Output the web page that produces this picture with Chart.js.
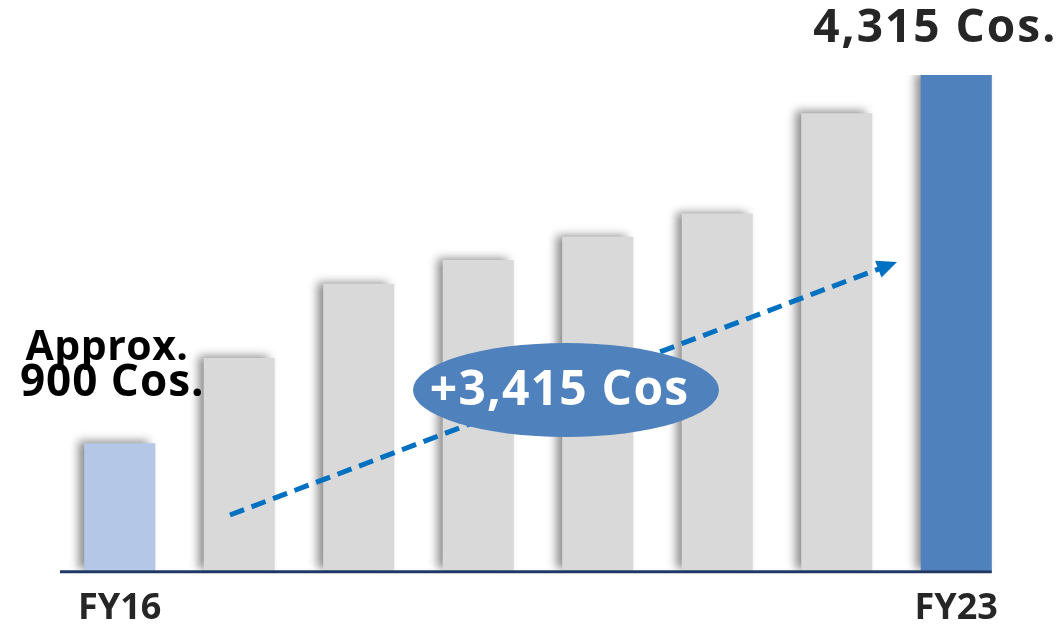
<!DOCTYPE html>
<html>
<head>
<meta charset="utf-8">
<script src="https://cdn.jsdelivr.net/npm/chart.js@4"></script>
<style>
  html, body { margin: 0; padding: 0; background: #fff; }
  #wrap { width: 1061px; height: 627px; }
</style>
</head>
<body>
<div id="wrap"><canvas id="companies-chart"></canvas></div>
<script>
// fiscal years and number of companies (middle years)
var years = ["FY16", "FY17", "FY18", "FY19", "FY20", "FY21", "FY22", "FY23"];
var companies = [900, 1690, 2380, 2600, 2815, 3030, 3960, 4315];
var shownTicks = ["FY16", "FY23"];
var barColors = ["#b4c7e7", "#d9d9d9", "#d9d9d9", "#d9d9d9", "#d9d9d9", "#d9d9d9", "#d9d9d9", "#4f81bd"];

var firstLabel = ["Approx.", "900 Cos."];
var lastLabel = "4,315 Cos.";
var growthLabel = "+3,415 Cos";

var yMin = -282;
var yMax = 4315;
var FONT = "'Open Sans', 'Noto Sans', sans-serif";

// soft shadow on the left side of the bars
var shadowPlugin = {
    id: "barShadow",
    beforeDatasetsDraw: function(chart) {
        var ctx = chart.ctx;
        ctx.save();
        ctx.shadowColor = "rgba(0,0,0,0.45)";
        ctx.shadowBlur = 9;
        ctx.shadowOffsetX = -6;
        ctx.shadowOffsetY = -2;
    },
    afterDatasetsDraw: function(chart) {
        chart.ctx.restore();
    }
};

function spaced(ctx, text, x, y, spacing) {
    ctx.letterSpacing = spacing + "px";
    ctx.fillText(text, x + spacing / 2, y);
    ctx.letterSpacing = "0px";
}

var extrasPlugin = {
    id: "extras",
    afterDraw: function(chart) {
        var ctx = chart.ctx;
        var area = chart.chartArea;
        var bars = chart.getDatasetMeta(0).data;
        var first = bars[0];
        var last = bars[bars.length - 1];

        // baseline
        ctx.save();
        ctx.strokeStyle = "#1f3864";
        ctx.lineWidth = 3;
        ctx.beginPath();
        ctx.moveTo(area.left, area.bottom + 1);
        ctx.lineTo(last.x + last.width / 2, area.bottom + 1);
        ctx.stroke();

        // value labels
        ctx.textAlign = "center";
        ctx.textBaseline = "alphabetic";
        ctx.fillStyle = "#000";
        ctx.font = "bold 41px " + FONT;
        spaced(ctx, firstLabel[0], first.x - 13, first.y - 83, 0.5);
        ctx.font = "bold 44px " + FONT;
        spaced(ctx, firstLabel[1], first.x - 8, first.y - 47, 1);

        ctx.fillStyle = "#262626";
        ctx.font = "bold 46px " + FONT;
        spaced(ctx, lastLabel, last.x - 22, last.y - 33, 2);

        // dashed trend arrow
        var x1 = area.left + 170, y1 = 515;
        var x2 = area.left + 837, y2 = 262;
        var ang = Math.atan2(y2 - y1, x2 - x1);
        ctx.strokeStyle = "#0070c0";
        ctx.fillStyle = "#0070c0";
        ctx.lineWidth = 5;
        ctx.setLineDash([15, 8]);
        ctx.beginPath();
        ctx.moveTo(x1, y1);
        ctx.lineTo(x2 - 14 * Math.cos(ang), y2 - 14 * Math.sin(ang));
        ctx.stroke();
        ctx.setLineDash([]);
        ctx.beginPath();
        ctx.moveTo(x2, y2);
        ctx.lineTo(x2 - 20 * Math.cos(ang) + 9 * Math.sin(ang), y2 - 20 * Math.sin(ang) - 9 * Math.cos(ang));
        ctx.lineTo(x2 - 20 * Math.cos(ang) - 9 * Math.sin(ang), y2 - 20 * Math.sin(ang) + 9 * Math.cos(ang));
        ctx.closePath();
        ctx.fill();

        // ellipse with growth
        ctx.fillStyle = "#4f81bd";
        ctx.beginPath();
        ctx.ellipse(area.left + 506, 390, 153, 47, 0, 0, Math.PI * 2);
        ctx.fill();
        ctx.fillStyle = "#fff";
        ctx.font = "bold 48px " + FONT;
        ctx.textBaseline = "middle";
        spaced(ctx, growthLabel, area.left + 499, 391, 1.2);
        ctx.restore();
    }
};

var ctx = document.getElementById("companies-chart").getContext("2d");
var chart = new Chart(ctx, {
    type: "bar",
    data: {
        labels: years,
        datasets: [{
            data: companies,
            backgroundColor: barColors,
            base: yMin,
            categoryPercentage: 1,
            barPercentage: 0.595
        }]
    },
    options: {
        responsive: true,
        maintainAspectRatio: false,
        animation: false,
        layout: { padding: { left: 60, right: 45, top: 75, bottom: -19 } },
        plugins: {
            legend: { display: false },
            tooltip: { enabled: false }
        },
        scales: {
            x: {
                grid: { display: false, drawTicks: false },
                border: { display: false },
                ticks: {
                    padding: 16,
                    color: "#262626",
                    font: { family: FONT, size: 36, weight: "bold" },
                    autoSkip: false,
                    maxRotation: 0,
                    callback: function(value, index) {
                        var lbl = years[index];
                        return shownTicks.indexOf(lbl) >= 0 ? lbl : "";
                    }
                }
            },
            y: {
                display: false,
                min: yMin,
                max: yMax
            }
        }
    },
    plugins: [shadowPlugin, extrasPlugin]
});
</script>
</body>
</html>
